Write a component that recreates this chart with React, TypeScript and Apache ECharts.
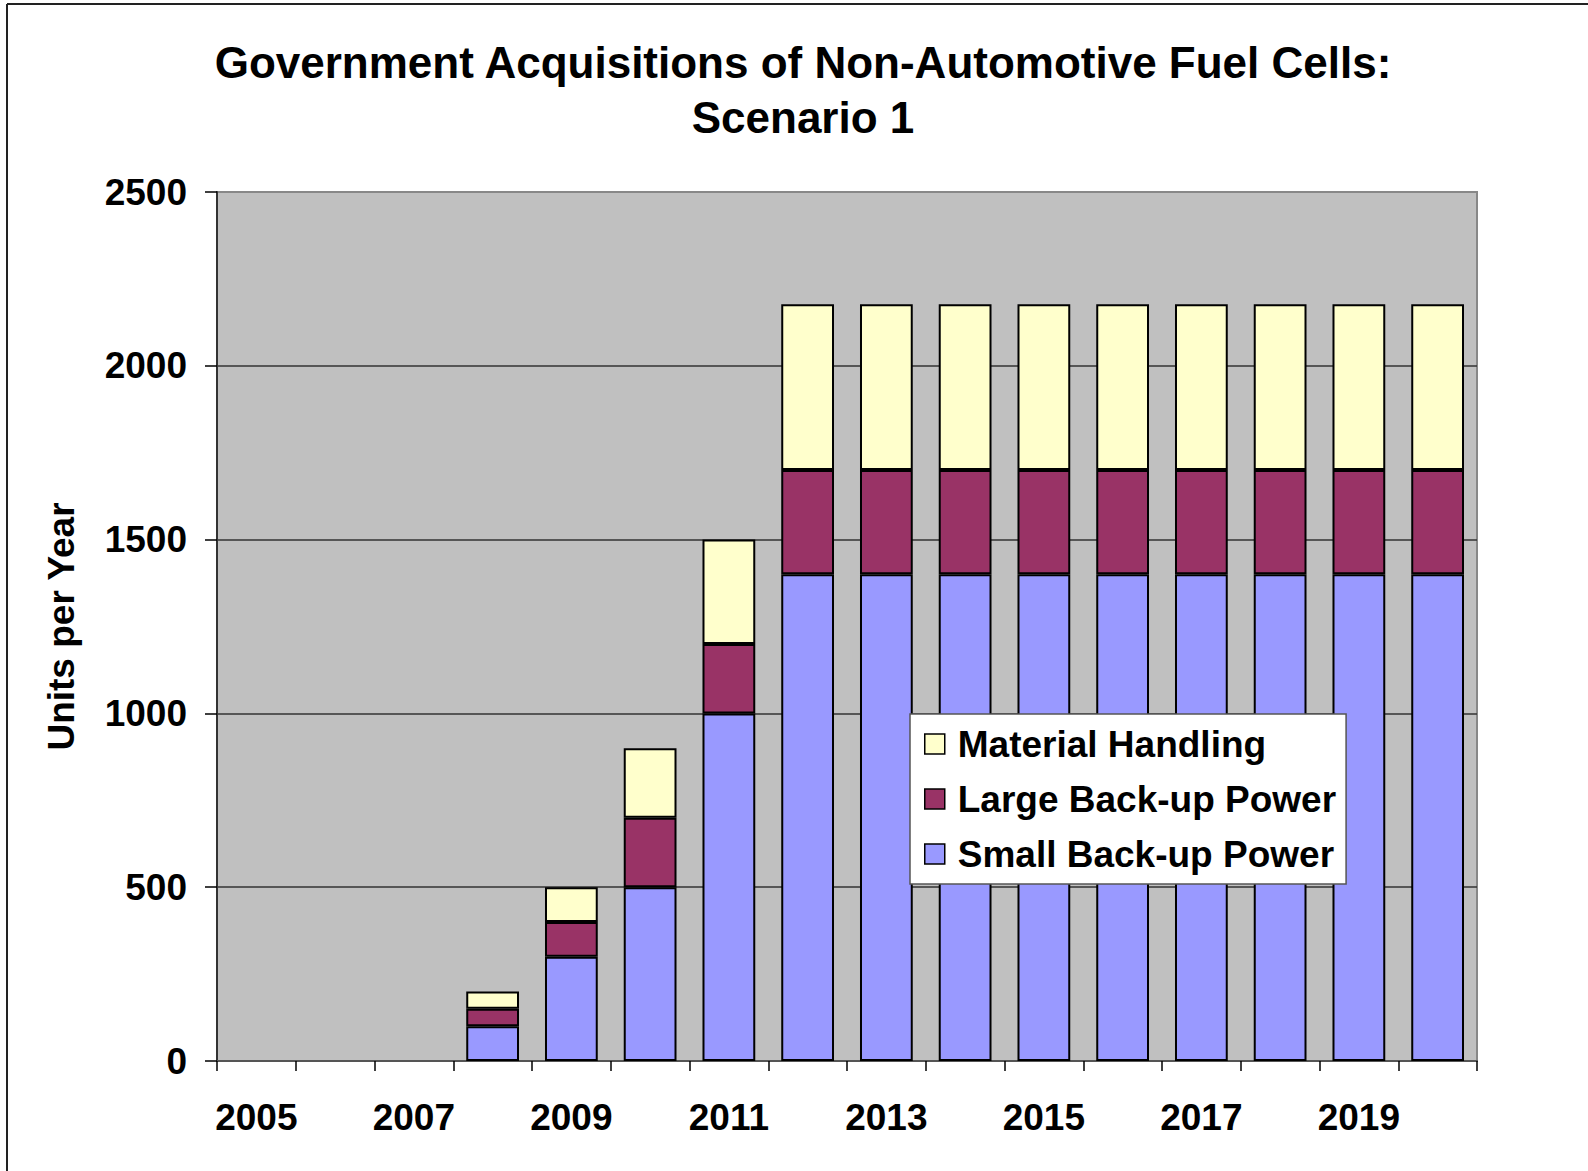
import React, { useEffect, useRef } from "react";
import * as echarts from "echarts";

const years = ["2005","2006","2007","2008","2009","2010","2011","2012","2013","2014","2015","2016","2017","2018","2019","2020"];
const smallBackup = [0, 0, 0, 100, 300, 500, 1000, 1400, 1400, 1400, 1400, 1400, 1400, 1400, 1400, 1400];
const largeBackup = [0, 0, 0, 50, 100, 200, 200, 300, 300, 300, 300, 300, 300, 300, 300, 300];
const materialHandling = [0, 0, 0, 50, 100, 200, 300, 477, 477, 477, 477, 477, 477, 477, 477, 477];
const yTicks = [0, 500, 1000, 1500, 2000, 2500];

const FONT = "'Liberation Sans', Arial, Helvetica, sans-serif";

const hideZero = (arr: number[]) => arr.map((v) => (v === 0 ? "-" : v));

export default function App() {
  const ref = useRef<HTMLDivElement>(null);
  useEffect(() => {
    if (!ref.current) return;
    const chart = echarts.init(ref.current, null, { renderer: "svg" });
    const barBase = {
      type: "bar",
      stack: "total",
      barWidth: "67%",
      itemStyle: { borderColor: "#000", borderWidth: 2 },
    };
    chart.setOption({
      animation: false,
      textStyle: { fontFamily: FONT },
      title: {
        text: "Government Acquisitions of Non-Automotive Fuel Cells:\nScenario 1",
        left: 798,
        top: 30,
        textAlign: "center",
        textStyle: { fontFamily: FONT, fontSize: 44, fontWeight: "bold", color: "#000", lineHeight: 55 },
      },
      grid: {
        left: 217,
        top: 192,
        width: 1260,
        height: 869,
        show: true,
        backgroundColor: "#c0c0c0",
        borderColor: "#888",
        borderWidth: 2,
      },
      legend: {
        orient: "vertical",
        left: 910,
        top: 714,
        data: ["Material Handling", "Large Back-up Power", "Small Back-up Power"],
        backgroundColor: "#fff",
        borderColor: "#555",
        borderWidth: 1.5,
        borderRadius: 0,
        padding: [10, 10, 10, 14],
        itemGap: 15,
        itemWidth: 20,
        itemHeight: 20,
        icon: "rect",
        itemStyle: { borderColor: "#000", borderWidth: 1.5 },
        textStyle: { fontFamily: FONT, fontSize: 37, fontWeight: "bold", color: "#000", lineHeight: 40, padding: [0, 0, 0, 8] },
      },
      xAxis: {
        type: "category",
        data: years,
        boundaryGap: true,
        axisLine: { show: true, lineStyle: { color: "#555", width: 2 } },
        axisTick: { show: true, interval: 0, length: 10, lineStyle: { color: "#000", width: 1.5 } },
        axisLabel: {
          interval: 1,
          margin: 38,
          fontFamily: FONT,
          fontSize: 37,
          fontWeight: "bold",
          color: "#000",
        },
      },
      yAxis: {
        type: "value",
        min: yTicks[0],
        max: yTicks[yTicks.length - 1],
        interval: 500,
        name: "Units per Year",
        nameLocation: "middle",
        nameRotate: 90,
        nameGap: 137,
        nameTextStyle: { fontFamily: FONT, fontSize: 37, fontWeight: "bold", color: "#000" },
        axisLine: { show: true, lineStyle: { color: "#333", width: 2 } },
        axisTick: { show: true, length: 12, lineStyle: { color: "#000", width: 1.5 } },
        axisLabel: {
          margin: 30,
          fontFamily: FONT,
          fontSize: 37,
          fontWeight: "bold",
          color: "#000",
          formatter: (v: number) => String(v),
        },
        splitLine: {
          show: true,
          lineStyle: { color: ["#333", "#333", "#333", "#333", "#333", "#888"], width: 1.5 },
        },
      },
      graphic: [
        { type: "line", shape: { x1: 7, y1: 4, x2: 1588, y2: 4 }, style: { stroke: "#222", lineWidth: 2 } },
        { type: "line", shape: { x1: 7, y1: 4, x2: 7, y2: 1171 }, style: { stroke: "#222", lineWidth: 2 } },
      ],
      series: [
        { ...barBase, name: "Small Back-up Power", data: hideZero(smallBackup), itemStyle: { ...barBase.itemStyle, color: "#9999ff" } },
        { ...barBase, name: "Large Back-up Power", data: hideZero(largeBackup), itemStyle: { ...barBase.itemStyle, color: "#993366" } },
        { ...barBase, name: "Material Handling", data: hideZero(materialHandling), itemStyle: { ...barBase.itemStyle, color: "#ffffcc" } },
      ],
    });
    return () => chart.dispose();
  }, []);
  return (
    <div
      ref={ref}
      style={{ position: "fixed", left: 0, top: 0, width: 1588, height: 1171, background: "#fff" }}
    />
  );
}
